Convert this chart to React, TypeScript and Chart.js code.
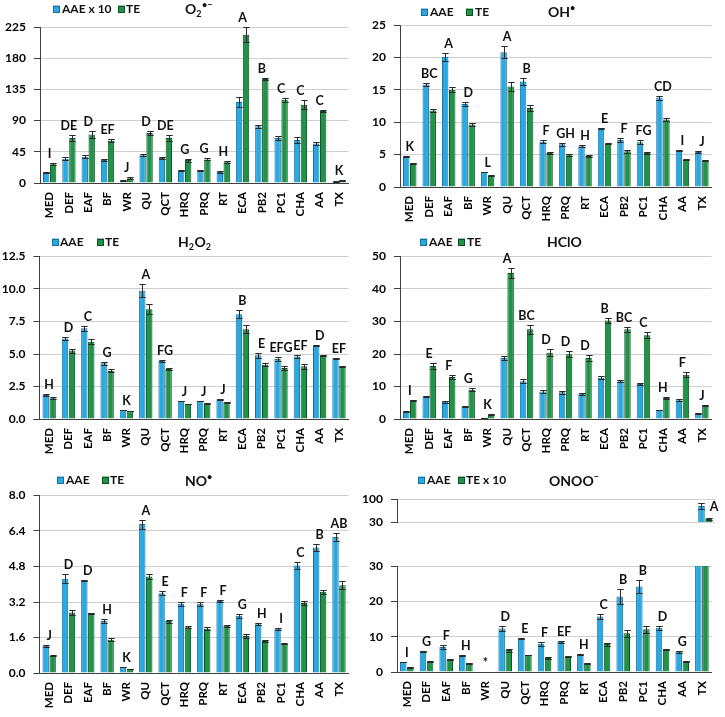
import React, { useEffect, useRef } from 'react';
import { Chart, registerables } from 'chart.js';

Chart.register(...registerables);

// ---------- data ----------
const categories = ['MED', 'DEF', 'EAF', 'BF', 'WR', 'QU', 'QCT', 'HRQ', 'PRQ', 'RT', 'ECA', 'PB2', 'PC1', 'CHA', 'AA', 'TX'];

// O2•− panel (AAE x 10, TE)
const o2Aae = [15, 35, 38, 33, 3.3, 40, 36, 18, 18, 16, 117, 82, 65, 62, 57, 2];
const o2AaeErr = [1, 2, 2.5, 1.5, 0.5, 1.5, 2, 1, 1, 1, 7, 2, 2.5, 4, 1.5, 0.5];
const o2Te = [27, 65, 70, 61, 7, 72, 65, 33, 34, 30, 214, 150, 120, 113, 104, 4];
const o2TeErr = [1.5, 4, 5, 2, 1, 3, 4, 2, 1.5, 1.5, 11, 2, 3, 6, 2, 0.5];
const o2Letters = ['I', 'DE', 'D', 'EF', 'J', 'D', 'DE', 'G', 'G', 'H', 'A', 'B', 'C', 'C', 'C', 'K'];
const o2Ticks = [0, 45, 90, 135, 180, 225];

// OH• panel
const ohAae = [4.7, 15.8, 20.1, 12.8, 2.3, 20.8, 16.3, 7.0, 6.6, 6.3, 9.0, 7.25, 6.9, 13.8, 5.65, 5.4];
const ohAaeErr = [0.1, 0.25, 0.6, 0.25, 0.05, 0.9, 0.5, 0.25, 0.2, 0.15, 0.05, 0.3, 0.3, 0.3, 0.1, 0.15];
const ohTe = [3.6, 11.8, 15.0, 9.65, 1.75, 15.5, 12.2, 5.25, 4.9, 4.8, 6.7, 5.5, 5.25, 10.4, 4.2, 4.1];
const ohTeErr = [0.05, 0.2, 0.4, 0.25, 0.05, 0.7, 0.4, 0.15, 0.15, 0.1, 0.05, 0.2, 0.15, 0.2, 0.1, 0.1];
const ohLetters = ['K', 'BC', 'A', 'D', 'L', 'A', 'B', 'F', 'GH', 'H', 'E', 'F', 'FG', 'CD', 'I', 'J'];
const ohTicks = [0, 5, 10, 15, 20, 25];

// H2O2 panel
const h2o2Aae = [1.85, 6.19, 6.98, 4.29, 0.69, 9.86, 4.47, 1.39, 1.39, 1.51, 8.06, 4.9, 4.62, 4.8, 5.67, 4.67];
const h2o2AaeErr = [0.1, 0.15, 0.2, 0.12, 0.02, 0.5, 0.1, 0.03, 0.03, 0.05, 0.3, 0.2, 0.12, 0.12, 0.05, 0.06];
const h2o2Te = [1.6, 5.26, 5.95, 3.7, 0.6, 8.45, 3.85, 1.15, 1.18, 1.28, 6.9, 4.18, 3.93, 4.05, 4.88, 4.03];
const h2o2TeErr = [0.06, 0.15, 0.2, 0.12, 0.02, 0.4, 0.06, 0.03, 0.03, 0.04, 0.3, 0.12, 0.15, 0.2, 0.04, 0.05];
const h2o2Letters = ['H', 'D', 'C', 'G', 'K', 'A', 'FG', 'J', 'J', 'J', 'B', 'E', 'EFG', 'EF', 'D', 'EF'];
const h2o2Ticks = [0, 2.5, 5, 7.5, 10, 12.5];

// HClO panel
const hcloAae = [2.26, 6.88, 5.34, 3.8, 0.41, 18.8, 11.6, 8.5, 8.2, 7.8, 12.7, 11.6, 10.8, 2.77, 5.75, 1.75];
const hcloAaeErr = [0.1, 0.2, 0.3, 0.1, 0.05, 0.5, 0.6, 0.4, 0.4, 0.3, 0.4, 0.3, 0.4, 0.1, 0.3, 0.1];
const hcloTe = [5.75, 16.3, 12.9, 9.0, 1.33, 44.9, 27.6, 20.4, 19.9, 18.8, 30.3, 27.6, 25.8, 6.47, 13.65, 4.1];
const hcloTeErr = [0.2, 0.8, 0.6, 0.4, 0.1, 1.5, 1.4, 1.0, 0.9, 0.8, 0.9, 0.8, 0.9, 0.3, 0.7, 0.1];
const hcloLetters = ['I', 'E', 'F', 'G', 'K', 'A', 'BC', 'D', 'D', 'D', 'B', 'BC', 'C', 'H', 'F', 'J'];
const hcloTicks = [0, 10, 20, 30, 40, 50];

// NO• panel
const noAae = [1.23, 4.25, 4.16, 2.34, 0.26, 6.71, 3.6, 3.12, 3.12, 3.24, 2.58, 2.2, 2.0, 4.85, 5.66, 6.13];
const noAaeErr = [0.04, 0.2, 0.02, 0.08, 0.01, 0.2, 0.1, 0.08, 0.09, 0.06, 0.08, 0.05, 0.05, 0.15, 0.16, 0.2];
const noTe = [0.78, 2.73, 2.7, 1.5, 0.18, 4.35, 2.34, 2.06, 2.0, 2.13, 1.67, 1.44, 1.32, 3.15, 3.66, 3.95];
const noTeErr = [0.02, 0.1, 0.02, 0.07, 0.01, 0.13, 0.07, 0.04, 0.06, 0.04, 0.07, 0.04, 0.03, 0.08, 0.08, 0.18];
const noLetters = ['J', 'D', 'D', 'H', 'K', 'A', 'E', 'F', 'F', 'F', 'G', 'H', 'I', 'C', 'B', 'AB'];
const noTicks = [0, 1.6, 3.2, 4.8, 6.4, 8];

// ONOO− panel (AAE, TE x 10) – broken axis
const onooAae = [2.8, 5.8, 7.05, 4.7, 0, 12.3, 9.5, 8.0, 8.5, 4.9, 15.7, 21.4, 24.2, 12.5, 5.7, 78.9];
const onooAaeErr = [0.1, 0.2, 0.5, 0.2, 0, 0.8, 0.1, 0.6, 0.3, 0.2, 0.8, 2.1, 1.9, 0.5, 0.2, 9];
const onooTe = [1.3, 3.0, 3.6, 2.45, 0, 6.2, 4.8, 3.95, 4.4, 2.45, 7.9, 11.0, 12.1, 6.3, 2.9, 39.5];
const onooTeErr = [0.05, 0.1, 0.2, 0.1, 0, 0.4, 0.1, 0.3, 0.1, 0.1, 0.4, 1.0, 1.0, 0.2, 0.1, 2];
const onooLetters = ['I', 'G', 'F', 'H', '*', 'D', 'E', 'F', 'EF', 'H', 'C', 'B', 'B', 'D', 'G', 'A'];
const onooUpperTicks = [30, 100];
const onooLowerTicks = [0, 10, 20, 30];

// ---------- styles ----------
const FONT = 'Lato, "Liberation Sans", Arial, sans-serif';
const AAE_FILL = '#29A9E1';
const AAE_EDGE = '#1B6E9E';
const TE_FILL = '#1F9448';
const TE_EDGE = '#0D4F23';
const GRID = '#CFCFCF';
const AXIS = '#404040';

type Seg = { t: string; sub?: boolean; sup?: boolean };
type Rect = { x: number; y: number; w: number; h: number };
type Plot = { left: number; top: number; right: number; bottom: number };
type Legend = { y: number; sq1: number; t1: number; sq2: number; t2: number; labels: [string, string] };

interface PanelCfg {
  key: string;
  canvas: Rect;
  plot: Plot;
  yMin: number;
  yMax: number;
  ticks: number[];
  decimals: number;
  aae: number[];
  aaeErr: number[];
  te: number[];
  teErr: number[];
  letters: string[];
  legend?: Legend;
  title?: Seg[];
  titlePos?: { x: number; y: number };
  hideX?: boolean;
  letterMode?: 'normal' | 'inRange' | 'side';
}

const panels: PanelCfg[] = [
  {
    key: 'o2', canvas: { x: 0, y: 0, w: 362, h: 230 }, plot: { left: 40, top: 27, right: 355, bottom: 183 },
    yMin: 0, yMax: 225, ticks: o2Ticks, decimals: 0,
    aae: o2Aae, aaeErr: o2AaeErr, te: o2Te, teErr: o2TeErr, letters: o2Letters,
    legend: { y: 9, sq1: 53, t1: 62, sq2: 118, t2: 126, labels: ['AAE x 10', 'TE'] },
    title: [{ t: 'O' }, { t: '2', sub: true }, { t: '•−', sup: true }], titlePos: { x: 185, y: 13.5 },
  },
  {
    key: 'oh', canvas: { x: 362, y: 0, w: 363, h: 230 }, plot: { left: 400, top: 25, right: 715, bottom: 187 },
    yMin: 0, yMax: 25, ticks: ohTicks, decimals: 0,
    aae: ohAae, aaeErr: ohAaeErr, te: ohTe, teErr: ohTeErr, letters: ohLetters,
    legend: { y: 12, sq1: 421, t1: 430, sq2: 466, t2: 475, labels: ['AAE', 'TE'] },
    title: [{ t: 'OH' }, { t: '•', sup: true }], titlePos: { x: 548, y: 16.5 },
  },
  {
    key: 'h2o2', canvas: { x: 0, y: 230, w: 362, h: 235 }, plot: { left: 39.5, top: 256.5, right: 355, bottom: 419 },
    yMin: 0, yMax: 12.5, ticks: h2o2Ticks, decimals: 1,
    aae: h2o2Aae, aaeErr: h2o2AaeErr, te: h2o2Te, teErr: h2o2TeErr, letters: h2o2Letters,
    legend: { y: 242, sq1: 52, t1: 60, sq2: 97, t2: 105, labels: ['AAE', 'TE'] },
    title: [{ t: 'H' }, { t: '2', sub: true }, { t: 'O' }, { t: '2', sub: true }], titlePos: { x: 178, y: 246.5 },
  },
  {
    key: 'hclo', canvas: { x: 362, y: 230, w: 363, h: 235 }, plot: { left: 400, top: 256.5, right: 715, bottom: 419 },
    yMin: 0, yMax: 50, ticks: hcloTicks, decimals: 0,
    aae: hcloAae, aaeErr: hcloAaeErr, te: hcloTe, teErr: hcloTeErr, letters: hcloLetters,
    legend: { y: 242, sq1: 420, t1: 429, sq2: 458, t2: 467, labels: ['AAE', 'TE'] },
    title: [{ t: 'HClO' }], titlePos: { x: 547, y: 246.5 },
  },
  {
    key: 'no', canvas: { x: 0, y: 468, w: 362, h: 249 }, plot: { left: 39.5, top: 495.5, right: 355, bottom: 673 },
    yMin: 0, yMax: 8, ticks: noTicks, decimals: 1,
    aae: noAae, aaeErr: noAaeErr, te: noTe, teErr: noTeErr, letters: noLetters,
    legend: { y: 480, sq1: 57, t1: 66, sq2: 102, t2: 110, labels: ['AAE', 'TE'] },
    title: [{ t: 'NO' }, { t: '•', sup: true }], titlePos: { x: 185, y: 486 },
  },
  {
    key: 'onooU', canvas: { x: 362, y: 468, w: 363, h: 72 }, plot: { left: 397, top: 499, right: 715, bottom: 531 },
    yMin: 30, yMax: 100, ticks: onooUpperTicks, decimals: 0,
    aae: onooAae, aaeErr: onooAaeErr, te: onooTe, teErr: onooTeErr, letters: onooLetters,
    legend: { y: 480, sq1: 418, t1: 427, sq2: 458, t2: 466, labels: ['AAE', 'TE x 10'] },
    title: [{ t: 'ONOO' }, { t: '−', sup: true }], titlePos: { x: 549, y: 486 },
    hideX: true, letterMode: 'side',
  },
  {
    key: 'onooL', canvas: { x: 362, y: 540, w: 363, h: 177 }, plot: { left: 397, top: 566, right: 715, bottom: 672 },
    yMin: 0, yMax: 30, ticks: onooLowerTicks, decimals: 0,
    aae: onooAae, aaeErr: onooAaeErr, te: onooTe, teErr: onooTeErr, letters: onooLetters,
    letterMode: 'inRange',
  },
];

function overlayPlugin(p: PanelCfg) {
  const c = p.canvas;
  return {
    id: 'overlay_' + p.key,
    afterDatasetsDraw(chart: any) {
      const ctx: CanvasRenderingContext2D = chart.ctx;
      const area = chart.chartArea;
      const ys = chart.scales.y;
      ctx.save();
      ctx.beginPath();
      ctx.rect(area.left, area.top - 4, area.right - area.left, area.bottom - area.top + 4);
      ctx.clip();
      ctx.strokeStyle = '#2a2a2a';
      ctx.lineWidth = 1;
      [p.aaeErr, p.teErr].forEach((errs, di) => {
        const vals = di === 0 ? p.aae : p.te;
        const meta = chart.getDatasetMeta(di);
        meta.data.forEach((bar: any, i: number) => {
          const e = errs[i];
          if (!e) return;
          const v = vals[i];
          const x = Math.round(bar.x) + 0.5;
          const yT = Math.round(ys.getPixelForValue(v + e)) + 0.5;
          const yB = Math.round(ys.getPixelForValue(v - e)) + 0.5;
          const hw = Math.max(2, bar.width / 2);
          ctx.beginPath();
          ctx.moveTo(x, yT); ctx.lineTo(x, yB);
          ctx.moveTo(x - hw, yT); ctx.lineTo(x + hw, yT);
          ctx.moveTo(x - hw, yB); ctx.lineTo(x + hw, yB);
          ctx.stroke();
        });
      });
      ctx.restore();
    },
    afterDraw(chart: any) {
      const ctx: CanvasRenderingContext2D = chart.ctx;
      const ys = chart.scales.y;
      const m0 = chart.getDatasetMeta(0);
      const m1 = chart.getDatasetMeta(1);
      ctx.save();
      // letters
      ctx.fillStyle = '#111';
      ctx.font = `bold 12.5px ${FONT}`;
      p.letters.forEach((L, i) => {
        if (!L) return;
        const top = Math.max(p.aae[i] + p.aaeErr[i], p.te[i] + p.teErr[i]);
        const b0 = m0.data[i];
        const b1 = m1.data[i];
        if (p.letterMode === 'side') {
          if (top <= p.yMin) return;
          ctx.textAlign = 'left';
          ctx.textBaseline = 'middle';
          ctx.fillText(L, b0.x + b0.width / 2 + 5, ys.getPixelForValue(p.aae[i]) + 1);
          return;
        }
        if (p.letterMode === 'inRange' && top > p.yMax) return;
        ctx.textAlign = 'center';
        ctx.textBaseline = 'alphabetic';
        const cx = (b0.x + b1.x) / 2;
        ctx.fillText(L, cx, ys.getPixelForValue(top) - 5);
      });
      // legend
      if (p.legend) {
        const lg = p.legend;
        const ly = lg.y - c.y;
        const items: [number, number, string, string, string][] = [
          [lg.sq1, lg.t1, lg.labels[0], AAE_FILL, AAE_EDGE],
          [lg.sq2, lg.t2, lg.labels[1], TE_FILL, TE_EDGE],
        ];
        ctx.font = `bold 12px ${FONT}`;
        ctx.textAlign = 'left';
        ctx.textBaseline = 'middle';
        items.forEach(([sx, tx, label, fill, edge]) => {
          const x = sx - c.x;
          ctx.fillStyle = fill;
          ctx.fillRect(x, ly - 3.5, 7, 7);
          ctx.strokeStyle = edge;
          ctx.lineWidth = 1;
          ctx.strokeRect(Math.round(x) + 0.5, Math.round(ly - 3.5) + 0.5, 6, 6);
          ctx.fillStyle = '#111';
          ctx.fillText(label, tx - c.x, ly + 0.5);
        });
      }
      // title
      if (p.title && p.titlePos) {
        let x = p.titlePos.x - c.x;
        const base = p.titlePos.y - c.y;
        ctx.textAlign = 'left';
        ctx.textBaseline = 'alphabetic';
        ctx.fillStyle = '#111';
        p.title.forEach((s) => {
          let dy = 0;
          if (s.sub) { ctx.font = `bold 9px ${FONT}`; dy = 3.5; }
          else if (s.sup) { ctx.font = `bold 9px ${FONT}`; dy = -6; }
          else { ctx.font = `bold 14px ${FONT}`; }
          ctx.fillText(s.t, x, base + dy);
          x += ctx.measureText(s.t).width + (s.sub ? 0.5 : 0);
        });
      }
      ctx.restore();
    },
  };
}

function buildConfig(p: PanelCfg): any {
  const c = p.canvas;
  const yFont = { family: FONT, size: 12, weight: 'bold' as const };
  const xFont = { family: FONT, size: 11.5, weight: 'bold' as const };
  return {
    type: 'bar',
    data: {
      labels: categories,
      datasets: [
        {
          label: 'AAE', data: p.aae, backgroundColor: AAE_FILL, borderColor: AAE_EDGE, borderWidth: 1,
          categoryPercentage: 0.72, barPercentage: 0.92,
        },
        {
          label: 'TE', data: p.te, backgroundColor: TE_FILL, borderColor: TE_EDGE, borderWidth: 1,
          categoryPercentage: 0.72, barPercentage: 0.92,
        },
      ],
    },
    options: {
      responsive: false,
      animation: false,
      devicePixelRatio: 1,
      layout: {
        padding: {
          top: p.plot.top - c.y,
          right: c.x + c.w - p.plot.right,
          left: 0,
          bottom: p.hideX ? c.y + c.h - p.plot.bottom : 0,
        },
      },
      plugins: { legend: { display: false }, tooltip: { enabled: false }, title: { display: false } },
      scales: {
        x: {
          display: !p.hideX,
          grid: { display: false, drawTicks: false },
          border: { display: true, color: AXIS, width: 1 },
          ticks: {
            autoSkip: false, minRotation: 90, maxRotation: 90, padding: 9,
            color: '#000', font: xFont,
          },
          afterFit: (s: any) => { s.height = c.y + c.h - p.plot.bottom; },
        },
        y: {
          min: p.yMin,
          max: p.yMax,
          grid: { color: GRID, tickColor: AXIS, tickLength: 6, drawTicks: true },
          border: { display: true, color: AXIS, width: 1 },
          ticks: {
            padding: 8, color: '#000', font: yFont,
            callback: (v: any) => Number(v).toFixed(p.decimals),
          },
          afterBuildTicks: (s: any) => { s.ticks = p.ticks.map((v) => ({ value: v })); },
          afterFit: (s: any) => { s.width = p.plot.left - c.x; },
        },
      },
    },
    plugins: [overlayPlugin(p)],
  };
}

function Panel({ cfg }: { cfg: PanelCfg }) {
  const ref = useRef<HTMLCanvasElement>(null);
  useEffect(() => {
    if (!ref.current) return;
    const chart = new Chart(ref.current, buildConfig(cfg));
    return () => chart.destroy();
  }, [cfg]);
  const c = cfg.canvas;
  return (
    <canvas
      ref={ref}
      width={c.w}
      height={c.h}
      style={{ position: 'absolute', left: c.x, top: c.y, width: c.w, height: c.h }}
    />
  );
}

export default function App() {
  return (
    <div style={{ position: 'absolute', left: 0, top: 0, width: 725, height: 717, background: '#fff', overflow: 'hidden' }}>
      {panels.map((p) => (
        <Panel key={p.key} cfg={p} />
      ))}
    </div>
  );
}
